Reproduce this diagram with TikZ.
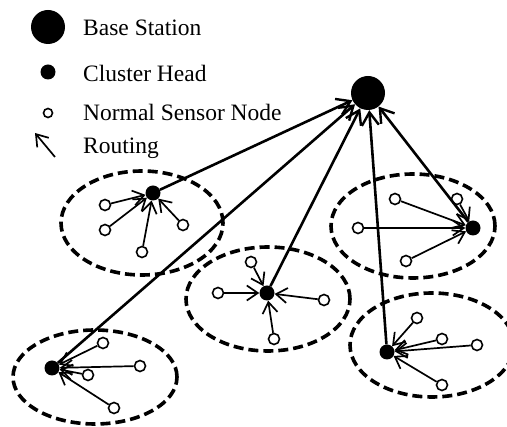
\documentclass[tikz,border=0pt]{standalone}
\usepackage{fontspec}
\setmainfont{Liberation Serif}
\usetikzlibrary{arrows.meta,shapes.geometric}

\begin{document}
\begin{tikzpicture}[x=1pt,y=-1pt]
\tikzstyle{base} = [circle, fill=black, minimum size=34pt, inner sep=0pt]
\tikzstyle{head} = [circle, fill=black, minimum size=15pt, inner sep=0pt]
\tikzstyle{sensor} = [circle, draw=black, line width=1.6pt, fill=white,
minimum size=11pt, inner sep=0pt]
\tikzstyle{cluster} = [ellipse, draw=black, line width=3.6pt,
dash pattern=on 10pt off 5pt, inner sep=0pt]
\tikzstyle{label} = [anchor=west, inner sep=0pt, font=\fontsize{23.5}{28}\selectfont]
\tikzstyle{route} = [draw, line width=1.7pt, -{Straight Barb[length=11pt,width=15pt,line width=1.7pt]}]
\tikzstyle{uplink} = [draw, line width=2.6pt, -{Straight Barb[length=13pt,width=17pt,line width=2.4pt]}]
\useasboundingbox (0,0) rectangle (507,427);

% legend
\node [base] (lbase) at (48,27) {};
\node [label] (tbase) at (83,28) {Base Station};
\node [head] (lhead) at (48,72) {};
\node [label] (thead) at (83,73) {Cluster Head};
\node [sensor, minimum size=9pt] (lsensor) at (48,113) {};
\node [label] (tsensor) at (83,112) {Normal Sensor Node};
\coordinate (rfrom) at (55,157);
\coordinate (rto) at (35,133);
\path [route] (rfrom) -- (rto);
\node [label] (troute) at (83,148) {Routing};

% clusters
\node [cluster, minimum width=162pt, minimum height=104pt] (c1) at (142,223) {};
\node [cluster, minimum width=164pt, minimum height=104pt] (c2) at (413,226) {};
\node [cluster, minimum width=164pt, minimum height=104pt] (c3) at (268,299) {};
\node [cluster, minimum width=164pt, minimum height=94pt] (c4) at (95,377) {};
\node [cluster, minimum width=164pt, minimum height=104pt] (c5) at (432,345) {};

% base station and cluster heads
\node [base] (bs) at (368,93) {};
\node [head] (h1) at (153,193) {};
\node [head] (h2) at (473,228) {};
\node [head] (h3) at (267,293) {};
\node [head] (h4) at (52,368) {};
\node [head] (h5) at (387,352) {};

% sensor nodes
\node [sensor] (s11) at (105,205) {};
\node [sensor] (s12) at (105,230) {};
\node [sensor] (s13) at (142,252) {};
\node [sensor] (s14) at (183,225) {};
\node [sensor] (s21) at (395,199) {};
\node [sensor] (s22) at (457,199) {};
\node [sensor] (s23) at (358,228) {};
\node [sensor] (s24) at (406,261) {};
\node [sensor] (s31) at (251,262) {};
\node [sensor] (s32) at (218,293) {};
\node [sensor] (s33) at (324,300) {};
\node [sensor] (s34) at (274,339) {};
\node [sensor] (s41) at (103,343) {};
\node [sensor] (s42) at (140,366) {};
\node [sensor] (s43) at (88,375) {};
\node [sensor] (s44) at (114,408) {};
\node [sensor] (s51) at (417,318) {};
\node [sensor] (s52) at (442,339) {};
\node [sensor] (s53) at (477,345) {};
\node [sensor] (s54) at (442,385) {};

% routing inside clusters
\foreach \c in {1,...,5}
  \foreach \s in {1,...,4}
    \path [route] (s\c\s) -- (h\c);

% routing to the base station
\foreach \c in {1,...,5}
  \path [uplink] (h\c) -- (bs);
\end{tikzpicture}
\end{document}
